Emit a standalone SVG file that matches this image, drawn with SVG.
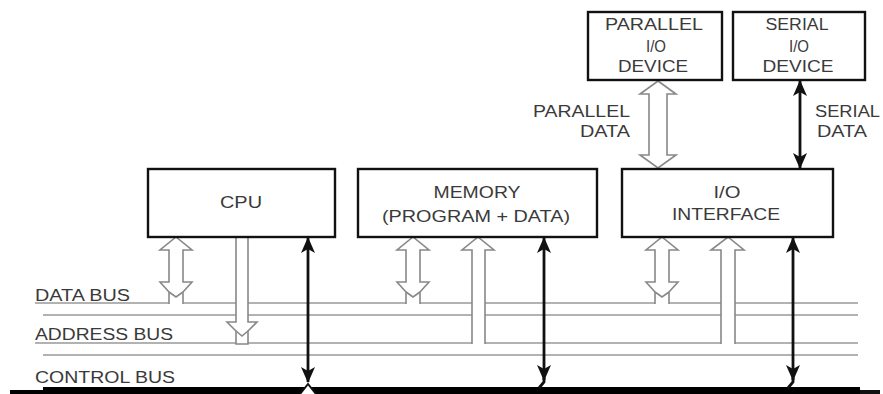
<svg xmlns="http://www.w3.org/2000/svg" width="883" height="394" viewBox="0 0 883 394">
<style>
.box{fill:#fff;stroke:#111;stroke-width:2.4}
.t{font-family:"Liberation Sans",Arial,sans-serif;font-size:16px;fill:#3a3a3a;text-anchor:middle}
.tl{font-family:"Liberation Sans",Arial,sans-serif;font-size:16px;fill:#3a3a3a}
.bus{stroke:#999;stroke-width:1.6;fill:none}
.hol{fill:#fff;stroke:#888;stroke-width:1.6;stroke-linejoin:miter}
.ctl{stroke:#111;stroke-width:2.8;fill:none;marker-start:url(#ah);marker-end:url(#ah)}
</style>
<defs>
<marker id="ah" viewBox="0 0 16 14" refX="15" refY="7" markerWidth="16" markerHeight="14" markerUnits="userSpaceOnUse" orient="auto-start-reverse">
<path d="M0,0 L16,7 L0,14 L4,7 Z" fill="#111"/>
</marker>
</defs>
<rect width="883" height="394" fill="#fff"/>

<g id="buses">
<line class="bus" x1="35" y1="303" x2="858" y2="303"/>
<line class="bus" x1="43" y1="315" x2="858" y2="315"/>
<line class="bus" x1="35" y1="343" x2="858" y2="343"/>
<line class="bus" x1="43" y1="355" x2="858" y2="355"/>
<rect x="43" y="387" width="817" height="7" fill="#000"/>
<rect x="10" y="390" width="33" height="4" fill="#000"/>
<rect x="860" y="390" width="20" height="4" fill="#111"/>
<text class="tl" x="35" y="301" textLength="95" lengthAdjust="spacingAndGlyphs">DATA BUS</text>
<text class="tl" x="35" y="340" textLength="138" lengthAdjust="spacingAndGlyphs">ADDRESS BUS</text>
<text class="tl" x="35" y="383" textLength="140" lengthAdjust="spacingAndGlyphs">CONTROL BUS</text>
</g>

<g id="connectors">
<polyline class="hol" points="169,304 169,292 160,282 169,282 169,250 160,250 176,237 192,250 183,250 183,282 192,282 183,292 183,304"/>
<polyline class="hol" points="169,292 176,297 183,292" fill="none"/>
<polyline class="hol" points="406,304 406,292 397,282 406,282 406,250 397,250 413,237 429,250 420,250 420,282 429,282 420,292 420,304"/>
<polyline class="hol" points="406,292 413,297 420,292" fill="none"/>
<polyline class="hol" points="655,304 655,292 646,282 655,282 655,250 646,250 662,237 678,250 669,250 669,282 678,282 669,292 669,304"/>
<polyline class="hol" points="655,292 662,297 669,292" fill="none"/>
<polyline class="hol" points="236,237 236,322 227,322 236,331 236,344 248,344 248,331 257,322 248,322 248,237"/>
<polyline class="hol" points="236,331 242,336 248,331" fill="none"/>
<polyline class="hol" points="472,344 472,250 462,250 478,237 494,250 485,250 485,344"/>
<polyline class="hol" points="721,344 721,250 711,250 728,237 744,250 735,250 735,344"/>
<polygon class="hol" points="658,81 676,94 667,94 667,155 676,155 658,168 640,155 649,155 649,94 640,94"/>
<line class="ctl" x1="308" y1="238" x2="308" y2="382"/>
<path d="M300,394 L308,384 L316,394" fill="#fff" stroke="#111" stroke-width="2"/>
<line class="ctl" x1="544" y1="238" x2="544" y2="380"/>
<path d="M544,378 L544,382 L539,388" fill="none" stroke="#111" stroke-width="2.8"/>
<line class="ctl" x1="793" y1="238" x2="793" y2="380"/>
<path d="M793,378 L793,382 L788,388" fill="none" stroke="#111" stroke-width="2.8"/>
<line class="ctl" x1="800" y1="81" x2="800" y2="168"/>
<text class="tl" x="533" y="117" textLength="97" lengthAdjust="spacingAndGlyphs">PARALLEL</text>
<text class="tl" x="580" y="137" textLength="50" lengthAdjust="spacingAndGlyphs">DATA</text>
<text class="tl" x="815" y="117" textLength="65" lengthAdjust="spacingAndGlyphs">SERIAL</text>
<text class="tl" x="817" y="137" textLength="50" lengthAdjust="spacingAndGlyphs">DATA</text>
</g>

<g id="cpu">
<rect class="box" x="148" y="169" width="187" height="68"/>
<text class="t" x="241" y="208" textLength="42" lengthAdjust="spacingAndGlyphs">CPU</text>
</g>
<g id="memory">
<rect class="box" x="358" y="169" width="239" height="68"/>
<text class="t" x="477" y="198" textLength="87" lengthAdjust="spacingAndGlyphs">MEMORY</text>
<text class="t" x="476" y="222" textLength="188" lengthAdjust="spacingAndGlyphs">(PROGRAM + DATA)</text>
</g>
<g id="io-interface">
<rect class="box" x="622" y="169" width="211" height="68"/>
<text class="t" x="727" y="198" textLength="27" lengthAdjust="spacingAndGlyphs">I/O</text>
<text class="t" x="726" y="220" textLength="108" lengthAdjust="spacingAndGlyphs">INTERFACE</text>
</g>
<g id="parallel-io-device">
<rect class="box" x="588" y="12" width="134" height="68"/>
<text class="t" x="654" y="30" textLength="98" lengthAdjust="spacingAndGlyphs">PARALLEL</text>
<text class="t" x="656" y="52" textLength="20" lengthAdjust="spacingAndGlyphs">I/O</text>
<text class="t" x="653" y="72" textLength="70" lengthAdjust="spacingAndGlyphs">DEVICE</text>
</g>
<g id="serial-io-device">
<rect class="box" x="733" y="12" width="132" height="68"/>
<text class="t" x="797" y="30" textLength="63" lengthAdjust="spacingAndGlyphs">SERIAL</text>
<text class="t" x="799" y="52" textLength="20" lengthAdjust="spacingAndGlyphs">I/O</text>
<text class="t" x="798" y="72" textLength="71" lengthAdjust="spacingAndGlyphs">DEVICE</text>
</g>
</svg>
